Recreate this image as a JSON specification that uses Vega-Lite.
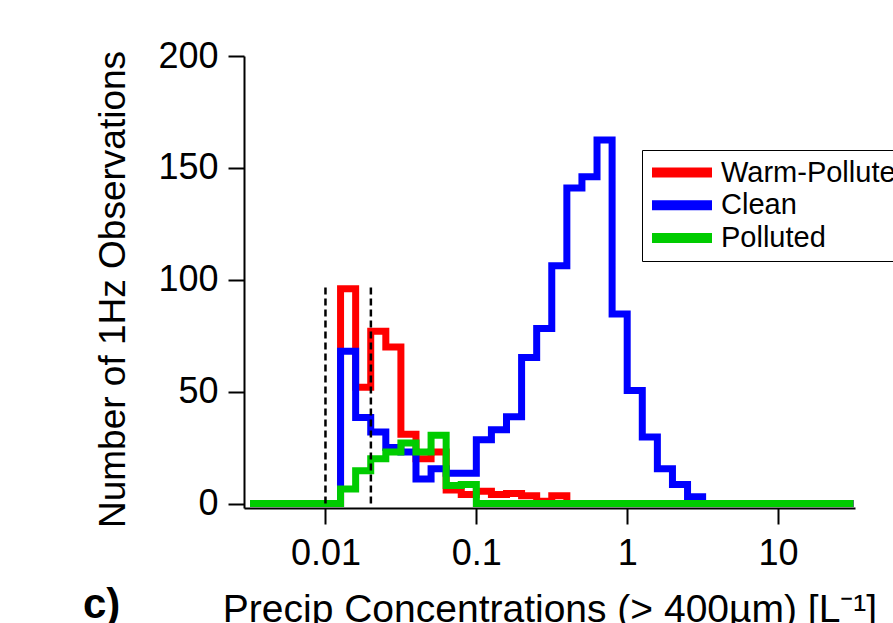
{
  "$schema": "https://vega.github.io/schema/vega-lite/v6.json",
  "width": 611,
  "height": 452,
  "autosize": "none",
  "padding": {"left": 244, "top": 56, "right": 38, "bottom": 115},
  "background": "white",
  "config": {
    "view": {"stroke": null},
    "font": "Liberation Sans",
    "axis": {"labelFont": "Liberation Sans", "titleFont": "Liberation Sans"}
  },
  "title": {
    "text": "c)",
    "orient": "bottom",
    "anchor": "start",
    "frame": "group",
    "fontSize": 42,
    "fontWeight": "bold",
    "font": "Liberation Sans",
    "color": "black",
    "dx": -161,
    "offset": -44
  },
  "datasets": {
    "hist": [
      {"series": "Warm-Polluted", "x": 0.003162, "count": 0},
      {"series": "Warm-Polluted", "x": 0.012589, "count": 96},
      {"series": "Warm-Polluted", "x": 0.015849, "count": 52},
      {"series": "Warm-Polluted", "x": 0.019953, "count": 77},
      {"series": "Warm-Polluted", "x": 0.025119, "count": 70},
      {"series": "Warm-Polluted", "x": 0.031623, "count": 31},
      {"series": "Warm-Polluted", "x": 0.039811, "count": 20},
      {"series": "Warm-Polluted", "x": 0.050119, "count": 23},
      {"series": "Warm-Polluted", "x": 0.063096, "count": 6},
      {"series": "Warm-Polluted", "x": 0.079433, "count": 4},
      {"series": "Warm-Polluted", "x": 0.1, "count": 5.5},
      {"series": "Warm-Polluted", "x": 0.125893, "count": 4},
      {"series": "Warm-Polluted", "x": 0.158489, "count": 4.5},
      {"series": "Warm-Polluted", "x": 0.199526, "count": 3.5},
      {"series": "Warm-Polluted", "x": 0.251189, "count": 1},
      {"series": "Warm-Polluted", "x": 0.316228, "count": 3.5},
      {"series": "Warm-Polluted", "x": 0.398107, "count": 0},
      {"series": "Warm-Polluted", "x": 31.622777, "count": 0},
      {"series": "Clean", "x": 0.003162, "count": 0},
      {"series": "Clean", "x": 0.012589, "count": 68},
      {"series": "Clean", "x": 0.015849, "count": 38.5},
      {"series": "Clean", "x": 0.019953, "count": 32},
      {"series": "Clean", "x": 0.025119, "count": 25},
      {"series": "Clean", "x": 0.031623, "count": 23},
      {"series": "Clean", "x": 0.039811, "count": 11},
      {"series": "Clean", "x": 0.050119, "count": 15.5},
      {"series": "Clean", "x": 0.063096, "count": 13.5},
      {"series": "Clean", "x": 0.079433, "count": 13.5},
      {"series": "Clean", "x": 0.1, "count": 28.5},
      {"series": "Clean", "x": 0.125893, "count": 33},
      {"series": "Clean", "x": 0.158489, "count": 38.8},
      {"series": "Clean", "x": 0.199526, "count": 65.3},
      {"series": "Clean", "x": 0.251189, "count": 78.2},
      {"series": "Clean", "x": 0.316228, "count": 106.3},
      {"series": "Clean", "x": 0.398107, "count": 141},
      {"series": "Clean", "x": 0.501187, "count": 146},
      {"series": "Clean", "x": 0.630957, "count": 162.5},
      {"series": "Clean", "x": 0.794328, "count": 84.7},
      {"series": "Clean", "x": 1.0, "count": 50.5},
      {"series": "Clean", "x": 1.258925, "count": 29.7},
      {"series": "Clean", "x": 1.584893, "count": 15.5},
      {"series": "Clean", "x": 1.995262, "count": 8.5},
      {"series": "Clean", "x": 2.511886, "count": 3},
      {"series": "Clean", "x": 3.162278, "count": 0},
      {"series": "Clean", "x": 31.622777, "count": 0},
      {"series": "Polluted", "x": 0.003162, "count": 0},
      {"series": "Polluted", "x": 0.012589, "count": 6.5},
      {"series": "Polluted", "x": 0.015849, "count": 14.6},
      {"series": "Polluted", "x": 0.019953, "count": 20},
      {"series": "Polluted", "x": 0.025119, "count": 23},
      {"series": "Polluted", "x": 0.031623, "count": 27},
      {"series": "Polluted", "x": 0.039811, "count": 23},
      {"series": "Polluted", "x": 0.050119, "count": 30.5},
      {"series": "Polluted", "x": 0.063096, "count": 8},
      {"series": "Polluted", "x": 0.079433, "count": 8.5},
      {"series": "Polluted", "x": 0.1, "count": 0},
      {"series": "Polluted", "x": 31.622777, "count": 0}
    ],
    "markers": [
      {"x": 0.01, "count": 96.5},
      {"x": 0.02, "count": 96.5}
    ]
  },
  "encoding": {
    "x": {
      "field": "x",
      "type": "quantitative",
      "scale": {"type": "log", "domain": [0.002884, 32.359], "nice": false},
      "axis": {
        "values": [0.01, 0.1, 1, 10],
        "format": "~g",
        "title": "Precip Concentrations (> 400µm) [L⁻¹]",
        "grid": false,
        "tickSize": 16,
        "tickWidth": 2,
        "tickColor": "black",
        "domainColor": "black",
        "domainWidth": 2,
        "labelFontSize": 36,
        "labelColor": "black",
        "labelPadding": 12,
        "labelFlush": false,
        "titleFontSize": 39,
        "titleFontWeight": "normal",
        "titleColor": "black",
        "titlePadding": 19
      }
    },
    "y": {
      "field": "count",
      "type": "quantitative",
      "scale": {"domain": [-2, 200], "nice": false, "zero": false},
      "axis": {
        "values": [0, 50, 100, 150, 200],
        "title": "Number of 1Hz Observations",
        "grid": false,
        "tickSize": 16,
        "tickWidth": 2,
        "tickColor": "black",
        "domainColor": "black",
        "domainWidth": 2,
        "labelFontSize": 36,
        "labelColor": "black",
        "labelPadding": 10,
        "labelFlush": false,
        "titleFontSize": 37,
        "titleFontWeight": "normal",
        "titleColor": "black",
        "titlePadding": 25,
        "titleY": 233
      }
    }
  },
  "layer": [
    {
      "data": {"name": "hist"},
      "transform": [{"filter": "datum.series === 'Warm-Polluted'"}],
      "mark": {"type": "line", "interpolate": "step-after", "strokeWidth": 7, "clip": false},
      "encoding": {
        "color": {
          "field": "series",
          "type": "nominal",
          "scale": {"domain": ["Warm-Polluted", "Clean", "Polluted"], "range": ["#FF0000", "#0000FF", "#00CC00"]},
          "legend": {
            "orient": "none",
            "legendX": 398,
            "legendY": 94,
            "title": null,
            "symbolType": "stroke",
            "symbolStrokeWidth": 10,
            "symbolSize": 3600,
            "symbolOffset": -3,
            "clipHeight": 29,
            "labelFontSize": 29,
            "labelFont": "Liberation Sans",
            "labelColor": "black",
            "labelOffset": 4,
            "labelLimit": 0,
            "padding": 8,
            "rowPadding": 2.7,
            "strokeColor": "black",
            "fillColor": "white"
          }
        }
      }
    },
    {
      "data": {"name": "hist"},
      "transform": [{"filter": "datum.series === 'Clean'"}],
      "mark": {"type": "line", "interpolate": "step-after", "strokeWidth": 7, "clip": false},
      "encoding": {
        "color": {"field": "series", "type": "nominal"}
      }
    },
    {
      "data": {"name": "hist"},
      "transform": [{"filter": "datum.series === 'Polluted'"}],
      "mark": {"type": "line", "interpolate": "step-after", "strokeWidth": 7, "clip": false},
      "encoding": {
        "color": {"field": "series", "type": "nominal"}
      }
    },
    {
      "data": {"name": "markers"},
      "mark": {"type": "rule", "strokeDash": [7, 4], "strokeWidth": 2.5, "color": "black"},
      "encoding": {
        "y2": {"datum": 0}
      }
    }
  ]
}
